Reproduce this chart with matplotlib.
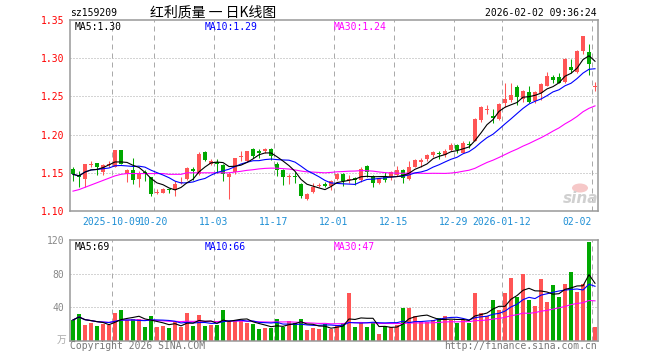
import matplotlib
matplotlib.use("Agg")
import matplotlib.pyplot as plt
from matplotlib.patches import Ellipse
import numpy as np
import pandas as pd

plt.rcParams['font.family'] = ['DejaVu Sans Mono', 'Noto Sans CJK SC']

# ---------------- data ----------------
open_ = [1.155, 1.147, 1.142, 1.161, 1.163, 1.151, 1.160, 1.158, 1.180, 1.149,
         1.154, 1.142, 1.151, 1.144, 1.124, 1.124, 1.129, 1.127, 1.137, 1.142,
         1.155, 1.148, 1.177, 1.162, 1.164, 1.160, 1.144, 1.151, 1.171, 1.165,
         1.181, 1.179, 1.178, 1.181, 1.162, 1.154, 1.144, 1.146, 1.135, 1.116,
         1.125, 1.133, 1.135, 1.133, 1.142, 1.149, 1.140, 1.143, 1.140, 1.159,
         1.146, 1.136, 1.145, 1.145, 1.147, 1.154, 1.142, 1.158, 1.164, 1.168,
         1.173, 1.176, 1.173, 1.180, 1.187, 1.176, 1.187, 1.192, 1.219, 1.233,
         1.224, 1.220, 1.241, 1.245, 1.262, 1.246, 1.256, 1.244, 1.254, 1.264,
         1.275, 1.276, 1.269, 1.288, 1.282, 1.310, 1.308, 1.262]
high = [1.157, 1.152, 1.162, 1.166, 1.163, 1.162, 1.165, 1.180, 1.180, 1.155,
        1.169, 1.152, 1.154, 1.145, 1.129, 1.130, 1.130, 1.139, 1.144, 1.158,
        1.157, 1.177, 1.179, 1.168, 1.168, 1.162, 1.151, 1.170, 1.178, 1.179,
        1.183, 1.181, 1.183, 1.183, 1.164, 1.155, 1.149, 1.151, 1.136, 1.123,
        1.136, 1.136, 1.138, 1.141, 1.150, 1.150, 1.147, 1.145, 1.157, 1.160,
        1.147, 1.143, 1.151, 1.152, 1.159, 1.155, 1.166, 1.168, 1.169, 1.174,
        1.179, 1.178, 1.181, 1.189, 1.188, 1.191, 1.191, 1.222, 1.237, 1.239,
        1.233, 1.241, 1.268, 1.268, 1.265, 1.258, 1.263, 1.257, 1.267, 1.282,
        1.278, 1.280, 1.300, 1.299, 1.311, 1.329, 1.319, 1.269]
low = [1.139, 1.132, 1.132, 1.157, 1.147, 1.147, 1.158, 1.157, 1.161, 1.138,
       1.135, 1.132, 1.139, 1.120, 1.122, 1.124, 1.123, 1.119, 1.135, 1.141,
       1.141, 1.147, 1.165, 1.160, 1.150, 1.139, 1.116, 1.149, 1.165, 1.164,
       1.170, 1.170, 1.176, 1.167, 1.146, 1.134, 1.135, 1.136, 1.117, 1.114,
       1.123, 1.131, 1.132, 1.128, 1.141, 1.133, 1.136, 1.134, 1.138, 1.145,
       1.131, 1.135, 1.138, 1.140, 1.146, 1.136, 1.140, 1.157, 1.158, 1.166,
       1.171, 1.168, 1.171, 1.179, 1.176, 1.176, 1.182, 1.191, 1.217, 1.227,
       1.215, 1.219, 1.236, 1.243, 1.239, 1.243, 1.241, 1.241, 1.245, 1.263,
       1.267, 1.267, 1.268, 1.280, 1.281, 1.306, 1.278, 1.257]
close = [1.148, 1.144, 1.161, 1.162, 1.157, 1.160, 1.162, 1.180, 1.162, 1.154,
         1.141, 1.148, 1.148, 1.122, 1.125, 1.129, 1.127, 1.135, 1.138, 1.156,
         1.152, 1.175, 1.167, 1.165, 1.161, 1.149, 1.149, 1.169, 1.172, 1.179,
         1.172, 1.176, 1.181, 1.172, 1.154, 1.144, 1.146, 1.144, 1.119, 1.122,
         1.132, 1.134, 1.133, 1.139, 1.148, 1.139, 1.142, 1.140, 1.155, 1.151,
         1.136, 1.143, 1.141, 1.151, 1.154, 1.143, 1.158, 1.167, 1.167, 1.173,
         1.177, 1.174, 1.178, 1.186, 1.180, 1.189, 1.186, 1.220, 1.236, 1.234,
         1.222, 1.240, 1.247, 1.252, 1.249, 1.257, 1.243, 1.256, 1.266, 1.277,
         1.272, 1.268, 1.299, 1.285, 1.310, 1.329, 1.293, 1.263]
volume = [25, 32, 19, 21, 18, 20, 19, 33, 37, 25, 26, 26, 17, 30, 17, 18, 15, 23,
          17, 33, 18, 31, 18, 19, 19, 37, 24, 24, 25, 21, 20, 14, 15, 15, 26, 17,
          24, 21, 26, 13, 15, 14, 20,
          14, 19, 21, 57, 17, 23, 17, 21, 8, 18, 17, 19, 39, 39, 30, 23, 23, 25,
          27, 30, 25, 21, 25, 21, 57, 33, 30, 49, 37, 57, 75, 52, 80, 49, 42, 74,
          46, 67, 52, 68, 82, 58, 68, 118, 17]
# MA30 of price before 30 sessions are on screen
ma30_head = [1.126, 1.128, 1.131, 1.134, 1.137, 1.140, 1.143, 1.146, 1.148, 1.149,
             1.149, 1.149, 1.149, 1.149, 1.149, 1.149, 1.148, 1.148, 1.148, 1.150,
             1.150, 1.150, 1.150, 1.150, 1.150, 1.150, 1.150, 1.151, 1.152]

tick_idx = [7, 14, 24, 34, 44, 54, 64, 72, 87]
tick_labels = ["2025-10-09", "10-20", "11-03", "11-17", "12-01", "12-15",
               "12-29", "2026-01-12", "02-02"]
price_ticks = [1.10, 1.15, 1.20, 1.25, 1.30, 1.35]
vol_ticks = [40, 80, 120]

code = "sz159209"
title = "红利质量 一 日K线图"
stamp = "2026-02-02 09:36:24"
price_ma_labels = ["MA5:1.30", "MA10:1.29", "MA30:1.24"]
vol_ma_labels = ["MA5:69", "MA10:66", "MA30:47"]
vol_unit = "万"
copyright_txt = "Copyright 2026 SINA.COM"
url_txt = "http://finance.sina.com.cn"

# ---------------- styles ----------------
RED = '#ff5555'
GREEN = '#00a800'
GRID = '#aaaaaa'
FRAME = '#999999'
MA_COLORS = ['#000000', '#0000ff', '#ff00ff']

W, H = 660, 360
fig = plt.figure(figsize=(W / 100, H / 100), dpi=100)
fig.patch.set_facecolor('white')


def fx(x):
    return x / W


def fy(y):
    return 1 - y / H


ax = fig.add_axes([fx(70), fy(211), 528 / W, 191 / H])
axv = fig.add_axes([fx(70), fy(341), 528 / W, 101 / H])

o = np.array(open_)
h = np.array(high)
l = np.array(low)
c = np.array(close)
v = np.array(volume, dtype=float)
x = np.arange(len(c))
up = c >= o
cols = np.where(up, RED, GREEN)

# moving averages
s = pd.Series(c)
ma5 = s.rolling(5, min_periods=1).mean().values
ma10 = s.rolling(10, min_periods=1).mean().values
ma30 = s.rolling(30).mean().values
ma30[:len(ma30_head)] = ma30_head
sv = pd.Series(v)
vma5 = sv.rolling(5, min_periods=1).mean().values
vma10 = sv.rolling(10, min_periods=1).mean().values
vma30 = sv.rolling(30, min_periods=1).mean().values

# ---------------- price panel ----------------
onepx = 0.25 / 191
bh = np.abs(c - o)
doji = bh < onepx
bottom = np.where(doji, (o + c) / 2 - onepx / 2, np.minimum(o, c))
bh = np.where(doji, onepx, bh)
ax.vlines(x, l, h, colors=cols, lw=0.75, zorder=2)
ax.bar(x, bh, bottom=bottom, width=0.8, color=cols, linewidth=0, zorder=3)
for ma, col in zip([ma30, ma10, ma5], MA_COLORS[::-1]):
    ax.plot(x, ma, color=col, lw=0.8, zorder=4)

ax.set_xlim(-0.5, len(c) - 0.5)
ax.set_ylim(price_ticks[0], price_ticks[-1])
for yv in price_ticks[1:-1]:
    ax.axhline(yv, color=GRID, lw=0.72, ls=(0, (1, 2)), zorder=0.5)
tick_pos = np.array(tick_idx) - 0.5
ax.set_xticks(tick_pos)
ax.set_xticklabels(tick_labels)
ax.xaxis.grid(True, color=GRID, lw=0.72, ls=(0, (5, 4)))
ax.set_axisbelow(True)
ax.set_yticks(price_ticks)
ax.set_yticklabels([f"{t:.2f}" for t in price_ticks])
ax.tick_params(axis='y', length=0, pad=4, labelcolor='red', labelsize=7)
ax.tick_params(axis='x', length=0, pad=4, labelcolor='#1e8fd5', labelsize=7)
ax.get_xticklabels()[-1].set_horizontalalignment('right')
for sp in ax.spines.values():
    sp.set_color(FRAME)
    sp.set_linewidth(1.1)

# ---------------- volume panel ----------------
vcols = cols
axv.bar(x, v, width=0.8, color=vcols, linewidth=0, zorder=2)
for ma, col in zip([vma30, vma10, vma5], MA_COLORS[::-1]):
    axv.plot(x, ma, color=col, lw=0.8, zorder=4)
axv.set_xlim(-0.5, len(c) - 0.5)
axv.set_ylim(0, vol_ticks[-1])
for yv in vol_ticks[:-1]:
    axv.axhline(yv, color=GRID, lw=0.72, ls=(0, (1, 2)), zorder=0.5)
axv.set_xticks(tick_pos)
axv.set_xticklabels([])
axv.xaxis.grid(True, color=GRID, lw=0.72, ls=(0, (5, 4)))
axv.set_axisbelow(True)
axv.set_yticks(vol_ticks)
axv.set_yticklabels([str(t) for t in vol_ticks])
axv.tick_params(axis='y', length=0, pad=4, labelcolor='#888888', labelsize=7)
axv.tick_params(axis='x', length=0)
for sp in axv.spines.values():
    sp.set_color(FRAME)
    sp.set_linewidth(1.1)

# ---------------- texts ----------------
mono = 'DejaVu Sans Mono'
fig.text(fx(70), fy(13), code, ha='left', va='center', fontsize=7, family=mono)
fig.text(fx(213), fy(12.5), title, ha='center', va='center', fontsize=10,
         family=['Noto Sans CJK SC', 'DejaVu Sans'])
fig.text(fx(597), fy(12.5), stamp, ha='right', va='center', fontsize=7, family=mono)

for lab, xp, col in zip(price_ma_labels, [75, 205, 334], MA_COLORS):
    fig.text(fx(xp), fy(26.5), lab, ha='left', va='center', fontsize=7,
             family=mono, color=col)
for lab, xp, col in zip(vol_ma_labels, [75, 205, 334], MA_COLORS):
    fig.text(fx(xp), fy(246.5), lab, ha='left', va='center', fontsize=7,
             family=mono, color=col)

fig.text(fx(66), fy(340), vol_unit, ha='right', va='center', fontsize=7,
         family=['Noto Sans CJK SC', 'DejaVu Sans'], color='#aaaaaa')
fig.text(fx(70), fy(346), copyright_txt, ha='left', va='center', fontsize=7,
         family=mono, color='#777777')
fig.text(fx(597), fy(346), url_txt, ha='right', va='center', fontsize=7,
         family=mono, color='#777777')

# sina watermark
fig.patches.append(Ellipse((fx(580), fy(188)), 16 / W, 9 / H,
                           transform=fig.transFigure, facecolor='#f6c8c8',
                           edgecolor='none', zorder=1))
fig.text(fx(581), fy(198), "sina", ha='center', va='center', fontsize=11,
         fontweight='bold', style='italic', color='#d0d0d0',
         family='DejaVu Sans')

fig.savefig("out.png", dpi=100, facecolor='white')
